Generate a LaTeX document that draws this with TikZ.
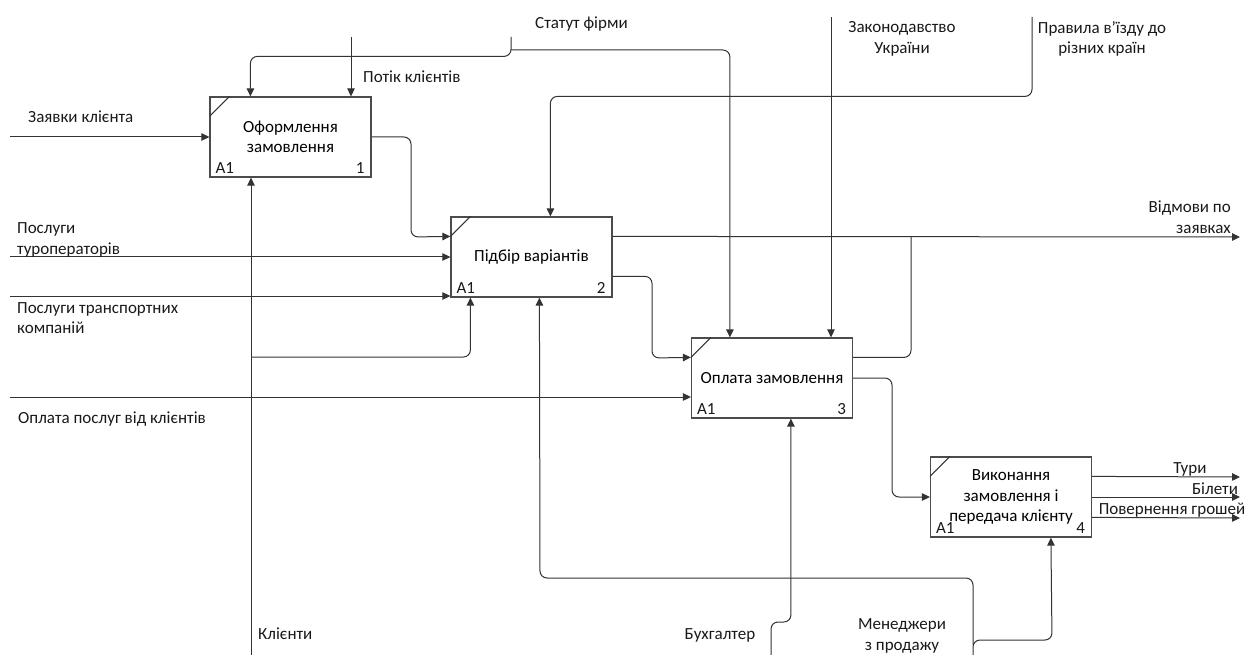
\documentclass[tikz,border=0pt]{standalone}
\usepackage{fontspec}
\setmainfont{Carlito}
\usetikzlibrary{calc, arrows.meta}

\newcommand{\lblfont}{\fontsize{17}{20.5}\selectfont}

\tikzset{
  line/.style={draw=black!80, line width=1pt, rounded corners=7pt},
  arr/.style={line, -{Triangle[length=8pt,width=7.5pt]}},
  func/.style={draw=black!70, line width=1.2pt, minimum width=161pt, minimum height=80pt,
    inner sep=2pt, align=center, font=\lblfont},
  lbl/.style={font=\lblfont, inner sep=0pt, text=black!90}
}

\begin{document}
\begin{tikzpicture}[x=1pt, y=-1pt]
        \useasboundingbox (0,0) rectangle (1248,655);

        % function boxes
        \node[func] (b1) at (290.5,137) {Оформлення\\замовлення};
        \node[func] (b2) at (531.5,257) {Підбір варіантів};
        \node[func] (b3) at (772,378) {Оплата замовлення};
        \node[func] (b4) at (1011,497) {Виконання\\замовлення і\\передача клієнту};

        \foreach \b/\n in {b1/1, b2/2, b3/3, b4/4} {
            \draw[line] ($(\b.north west)+(0,20)$) -- ($(\b.north west)+(20,0)$);
            \node[lbl, anchor=base west] (a\n) at ($(\b.south west)+(6,-4)$) {A1};
            \node[lbl, anchor=base east] (num\n) at ($(\b.south east)+(-7,-4)$) {\n};
        }

        % free ends
        \coordinate (zayav) at (10,137);
        \coordinate (turop) at (10,257);
        \coordinate (transp) at (10,296);
        \coordinate (oplata) at (10,397);
        \coordinate (klient) at (251,655);
        \coordinate (potik) at (351,37);
        \coordinate (statut) at (511,37);
        \coordinate (zakon) at (831,17);
        \coordinate (pravyla) at (1032,17);
        \coordinate (vidmovy) at (1240,237);
        \coordinate (tury) at (1240,477);
        \coordinate (bilety) at (1240,497);
        \coordinate (povern) at (1240,518);
        \coordinate (buh) at (771,655);
        \coordinate (menedz) at (973,655);

        % inputs
        \draw[arr] (zayav) -- (b1.west);
        \draw[arr] (turop) -- (b2.west);
        \draw[arr] (transp) -- (transp -| b2.west);
        \draw[arr] (oplata) -- (oplata -| b3.west);

        % controls
        \draw[arr] (potik) -- (potik |- b1.north);
        \draw[arr] (statut) |- ($(b1.north west)+(41,-40)$) -- ($(b1.north west)+(41,0)$);
        \draw[arr] (511,50) -| ($(b3.north west)+(39,0)$);
        \draw[arr] (zakon) -- (zakon |- b3.north);
        \draw[arr] (pravyla) |- ($(b2.north west)+(100,-120)$) -- ($(b2.north west)+(100,0)$);

        % flows between boxes
        \draw[arr] (b1.east) -| (411,237) -- ($(b2.north west)+(0,20)$);
        \draw[arr] ($(b2.north east)+(0,60)$) -| (652,358) -- ($(b3.north west)+(0,20)$);
        \draw[arr] (b3.east) -| (892,497) -- (b4.west);

        % outputs
        \draw[arr] ($(b2.north east)+(0,20)$) -- (vidmovy);
        \draw[line] ($(b3.north east)+(0,20)$) -| (911,237);
        \draw[arr] ($(b4.north east)+(0,20)$) -- (tury);
        \draw[arr] (b4.east) -- (bilety);
        \draw[arr] ($(b4.north east)+(0,61)$) -- (povern);

        % mechanisms
        \draw[arr] (klient) -- (klient |- b1.south);
        \draw[arr] (251,357) -| ($(b2.south west)+(20,0)$);
        \draw[arr] (buh) -- (771,622) -| ($(b3.south west)+(100,0)$);
        \draw[arr] (menedz) |- (1052,640) -- ($(b4.south west)+(121,0)$);
        \draw[arr] (973,645) |- (540,578) -- ($(b2.south west)+(89,0)$);

        % labels
        \node[lbl, anchor=base west] (tZayav) at (28,123) {Заявки клієнта};
        \node[lbl, anchor=west, align=left] (tTurop) at (17,240) {Послуги\\туроператорів};
        \node[lbl, anchor=west, align=left] (tTransp) at (17,318) {Послуги транспортних\\компаній};
        \node[lbl, anchor=base west] (tOplata) at (18,423) {Оплата послуг від клієнтів};
        \node[lbl, anchor=base west] (tKlient) at (258,639) {Клієнти};
        \node[lbl, anchor=base west] (tPotik) at (363,83) {Потік клієнтів};
        \node[lbl, anchor=base west] (tStatut) at (535,29) {Статут фірми};
        \node[lbl, align=center] (tZakon) at (902,39) {Законодавство\\України};
        \node[lbl, align=center] (tPravyla) at (1102,39) {Правила в’їзду до\\різних країн};
        \node[lbl, anchor=east, align=right] (tVidmovy) at (1231,217) {Відмови по\\заявках};
        \node[lbl, anchor=base] (tTury) at (1190,473) {Тури};
        \node[lbl, anchor=base] (tBilety) at (1215,494) {Білети};
        \node[lbl, anchor=base] (tPovern) at (1172,514) {Повернення грошей};
        \node[lbl, anchor=base] (tBuh) at (720,639) {Бухгалтер};
        \node[lbl, align=center] (tMenedz) at (902,636) {Менеджери\\з продажу};
    \end{tikzpicture}
\end{document}
